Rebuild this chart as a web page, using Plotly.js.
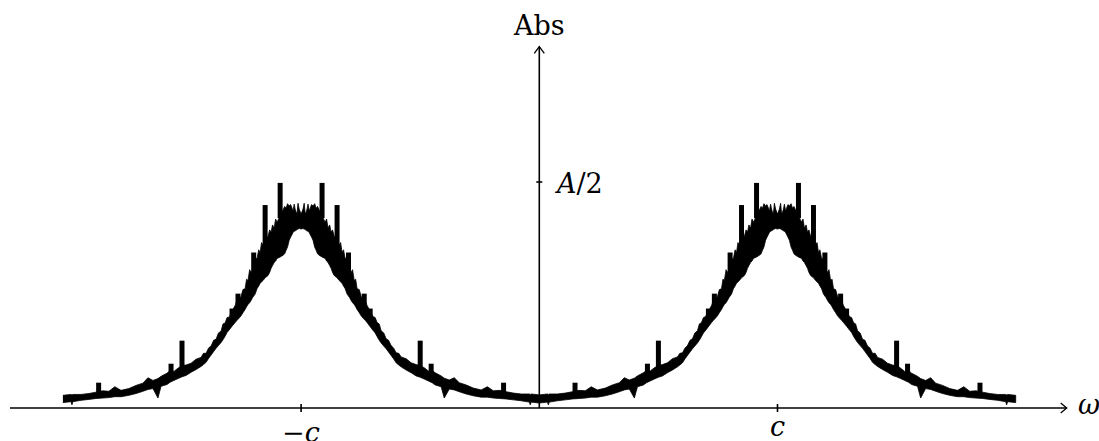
<!DOCTYPE html>
<html><head><meta charset="utf-8">
<script src="https://cdn.plot.ly/plotly-3.0.1.min.js"></script>
<style>html,body{margin:0;padding:0;background:#fff}#chart{width:1099px;height:441px}</style>
</head><body><div id="chart"></div>
<script>
// ===== data (omega in units of c, |F| in units of A) =====
// flank left of the -c peak (omega from -2c to -c)
const omegaOuterLeft = [-2.000,-1.966,-1.962,-1.958,-1.924,-1.891,-1.861,-1.833,-1.807,-1.782,-1.756,-1.723,-1.693,-1.664,-1.643,-1.622,-1.601,-1.588,-1.563,-1.550,-1.534,-1.517,-1.500,-1.483,-1.462,-1.441,-1.420,-1.410,-1.399,-1.388,-1.378,-1.367,-1.357,-1.347,-1.336,-1.328,-1.319,-1.311,-1.303,-1.290,-1.277,-1.269,-1.260,-1.252,-1.244,-1.235,-1.229,-1.223,-1.216,-1.210,-1.204,-1.193,-1.185,-1.178,-1.172,-1.166,-1.160,-1.151,-1.139,-1.132,-1.126,-1.120,-1.113,-1.107,-1.101,-1.088,-1.076,-1.069,-1.063,-1.057,-1.050,-1.044,-1.038,-1.034,-1.029,-1.025,-1.021,-1.017,-1.013,-1.008,-1.000];
const upperOuterLeft = [.028,.030,.029,.030,.030,.032,.035,.038,.037,.047,.039,.043,.050,.055,.067,.061,.065,.070,.077,.083,.081,.088,.094,.095,.099,.108,.112,.121,.121,.133,.137,.150,.152,.166,.170,.186,.188,.200,.201,.214,.227,.238,.240,.247,.262,.264,.285,.282,.306,.300,.305,.330,.331,.350,.344,.366,.360,.372,.380,.394,.389,.405,.398,.418,.411,.425,.438,.446,.442,.452,.447,.450,.442,.436,.451,.440,.433,.431,.453,.440,.429];
const lowerOuterLeft = [.012,.014,.007,.014,.017,.019,.021,.022,.023,.025,.025,.028,.032,.037,.041,.043,.022,.048,.052,.057,.061,.065,.069,.072,.079,.085,.092,.096,.101,.110,.117,.125,.132,.138,.145,.151,.159,.167,.172,.181,.189,.194,.199,.204,.211,.218,.224,.229,.233,.238,.244,.252,.264,.270,.276,.279,.282,.288,.293,.300,.309,.315,.322,.325,.331,.334,.338,.341,.349,.356,.371,.378,.384,.388,.391,.392,.393,.395,.396,.397,.396];
// flank right of the -c peak (omega from -c to 0)
const omegaInnerLeft = [-0.992,-0.987,-0.983,-0.979,-0.975,-0.971,-0.966,-0.962,-0.956,-0.950,-0.943,-0.937,-0.931,-0.924,-0.912,-0.899,-0.893,-0.887,-0.880,-0.874,-0.868,-0.861,-0.849,-0.840,-0.834,-0.828,-0.822,-0.815,-0.807,-0.796,-0.790,-0.784,-0.777,-0.771,-0.765,-0.756,-0.748,-0.740,-0.731,-0.723,-0.710,-0.697,-0.689,-0.681,-0.672,-0.664,-0.653,-0.643,-0.633,-0.622,-0.612,-0.601,-0.590,-0.580,-0.559,-0.538,-0.517,-0.500,-0.483,-0.466,-0.450,-0.437,-0.412,-0.399,-0.378,-0.357,-0.336,-0.307,-0.277,-0.244,-0.218,-0.193,-0.167,-0.139,-0.109,-0.076,-0.042,-0.038,-0.034,0.000];
const upperInnerLeft = [.440,.453,.431,.433,.440,.451,.436,.442,.450,.447,.452,.442,.446,.438,.425,.411,.418,.398,.405,.389,.394,.380,.372,.360,.366,.344,.350,.331,.330,.305,.300,.306,.282,.285,.264,.262,.247,.240,.238,.227,.214,.202,.200,.189,.186,.171,.166,.153,.150,.138,.133,.122,.121,.113,.109,.100,.096,.094,.089,.082,.083,.078,.071,.066,.062,.067,.056,.051,.044,.040,.047,.038,.039,.036,.033,.031,.031,.030,.031,.029];
const lowerInnerLeft = [.397,.396,.395,.393,.392,.391,.388,.384,.378,.371,.356,.349,.341,.338,.334,.331,.325,.322,.315,.309,.300,.293,.288,.282,.279,.276,.270,.264,.252,.244,.238,.233,.229,.224,.218,.211,.204,.199,.194,.189,.180,.171,.166,.158,.150,.144,.137,.131,.124,.116,.109,.100,.095,.091,.084,.078,.071,.068,.064,.060,.056,.051,.047,.022,.042,.040,.036,.031,.027,.024,.024,.022,.021,.020,.018,.016,.013,.007,.013,.011];
// flank left of the +c peak (omega from 0 to c)
const omegaInnerRight = [0.034,0.038,0.042,0.076,0.109,0.139,0.167,0.193,0.218,0.244,0.277,0.307,0.336,0.357,0.378,0.399,0.412,0.437,0.450,0.466,0.483,0.500,0.517,0.538,0.559,0.580,0.590,0.601,0.612,0.622,0.633,0.643,0.653,0.664,0.672,0.681,0.689,0.697,0.710,0.723,0.731,0.740,0.748,0.756,0.765,0.771,0.777,0.784,0.790,0.796,0.807,0.815,0.822,0.828,0.834,0.840,0.849,0.861,0.868,0.874,0.880,0.887,0.893,0.899,0.912,0.924,0.931,0.937,0.943,0.950,0.956,0.962,0.966,0.971,0.975,0.979,0.983,0.987,0.992,1.000];
const upperInnerRight = [.031,.030,.031,.031,.033,.036,.039,.038,.047,.040,.044,.051,.056,.067,.062,.066,.071,.078,.083,.082,.089,.094,.096,.100,.109,.113,.121,.122,.133,.138,.150,.153,.166,.171,.186,.189,.200,.202,.214,.227,.238,.240,.247,.262,.264,.285,.282,.306,.300,.305,.330,.331,.350,.344,.366,.360,.372,.380,.394,.389,.405,.398,.418,.411,.425,.438,.446,.442,.452,.447,.450,.442,.436,.451,.440,.433,.431,.453,.440,.429];
const lowerInnerRight = [.013,.007,.013,.016,.018,.020,.021,.022,.024,.024,.027,.031,.036,.040,.042,.022,.047,.051,.056,.060,.064,.068,.071,.078,.084,.091,.095,.100,.109,.116,.124,.131,.137,.144,.150,.158,.166,.171,.180,.189,.194,.199,.204,.211,.218,.224,.229,.233,.238,.244,.252,.264,.270,.276,.279,.282,.288,.293,.300,.309,.315,.322,.325,.331,.334,.338,.341,.349,.356,.371,.378,.384,.388,.391,.392,.393,.395,.396,.397,.396];
// flank right of the +c peak (omega from c to 2c)
const omegaOuterRight = [1.008,1.013,1.017,1.021,1.025,1.029,1.034,1.038,1.044,1.050,1.057,1.063,1.069,1.076,1.088,1.101,1.107,1.113,1.120,1.126,1.132,1.139,1.151,1.160,1.166,1.172,1.178,1.185,1.193,1.204,1.210,1.216,1.223,1.229,1.235,1.244,1.252,1.260,1.269,1.277,1.290,1.303,1.311,1.319,1.328,1.336,1.347,1.357,1.367,1.378,1.388,1.399,1.410,1.420,1.441,1.462,1.483,1.500,1.517,1.534,1.550,1.563,1.588,1.601,1.622,1.643,1.664,1.693,1.723,1.756,1.782,1.807,1.833,1.861,1.891,1.924,1.958,1.962,1.966,2.000];
const upperOuterRight = [.440,.453,.431,.433,.440,.451,.436,.442,.450,.447,.452,.442,.446,.438,.425,.411,.418,.398,.405,.389,.394,.380,.372,.360,.366,.344,.350,.331,.330,.305,.300,.306,.282,.285,.264,.262,.247,.240,.238,.227,.214,.202,.200,.189,.186,.171,.166,.152,.150,.137,.133,.121,.121,.112,.108,.099,.095,.094,.088,.081,.083,.077,.070,.065,.061,.067,.055,.050,.043,.039,.047,.037,.038,.035,.032,.030,.030,.029,.030,.028];
const lowerOuterRight = [.397,.396,.395,.393,.392,.391,.388,.384,.378,.371,.356,.349,.341,.338,.334,.331,.325,.322,.315,.309,.300,.293,.288,.282,.279,.276,.270,.264,.252,.244,.238,.233,.229,.224,.218,.211,.204,.199,.194,.189,.181,.172,.167,.159,.151,.145,.138,.132,.125,.117,.110,.101,.096,.092,.085,.079,.072,.069,.065,.061,.057,.052,.048,.022,.043,.041,.037,.032,.028,.025,.025,.023,.022,.021,.019,.017,.014,.007,.014,.012];
// isolated narrow spikes
const spikeOmega = [-1.850,-1.546,-1.500,-1.290,-1.265,-1.199,-1.151,-1.088,-0.912,-0.849,-0.801,-0.735,-0.710,-0.500,-0.454,-0.150,
                    0.150,0.454,0.500,0.710,0.735,0.801,0.849,0.912,1.088,1.151,1.199,1.265,1.290,1.500,1.546,1.850];
const spikeTop = [.056,.098,.149,.220,.253,.344,.449,.498,.498,.449,.344,.253,.220,.149,.098,.056,
                  .056,.098,.149,.220,.253,.344,.449,.498,.498,.449,.344,.253,.220,.149,.098,.056];
const spikeBase = [.034,.080,.090,.205,.230,.300,.360,.420,.420,.360,.300,.230,.205,.090,.080,.034,
                   .034,.080,.090,.205,.230,.300,.360,.420,.420,.360,.300,.230,.205,.090,.080,.034];
// tick labels and axis titles
const xTickValues = [-1, 1];
const xTickText = ['\u2212<i>c</i>', '<i>c</i>'];
const yTickValues = [0.5];
const yTickText = ['<i>A</i>/2'];
const xTitle = '<i>\u03c9</i>';
const yTitle = 'Abs';

// ===== geometry (pixels) =====
const W = 1099, H = 441;
const mL = 10, mR = 31, mT = 44, mB = 21;
const x0px = 539.3, pxPerX = 238.2;
const y0px = 408, pxPerY = 452;
const xRange = [(mL - x0px) / pxPerX, (W - mR - x0px) / pxPerX];
const yRange = [(y0px - (H - mB)) / pxPerY, (y0px - mT) / pxPerY];
const dx = p => p / pxPerX, dy = p => p / pxPerY;
const paperX = px => (px - mL) / (W - mL - mR);
const paperY = py => ((H - mB) - py) / (H - mT - mB);

const omega = [].concat(omegaOuterLeft, omegaInnerLeft, omegaInnerRight, omegaOuterRight);
const absUpper = [].concat(upperOuterLeft, upperInnerLeft, upperInnerRight, upperOuterRight);
const absLower = [].concat(lowerOuterLeft, lowerInnerLeft, lowerInnerRight, lowerOuterRight);
const bandX = omega.concat(omega.slice().reverse());
const bandY = absUpper.concat(absLower.slice().reverse());

const sx = [], sy = [];
spikeOmega.forEach((w, i) => { sx.push(w, w, null); sy.push(spikeBase[i], spikeTop[i], null); });

const traces = [
  {x: bandX, y: bandY, mode: 'lines', fill: 'toself', fillcolor: '#000', line: {color: '#000', width: 0.8, simplify: false}, hoverinfo: 'skip'},
  {x: sx, y: sy, mode: 'lines', line: {color: '#000', width: 5, simplify: false}, connectgaps: false, hoverinfo: 'skip'}
];

const xTip = (1066.7 - x0px) / pxPerX;
const yTip = (y0px - 46.7) / pxPerY;
const axisLine = {color: '#000', width: 1.6};
const shapes = [
  {type: 'line', xref: 'x', yref: 'y', x0: xRange[0], x1: xTip, y0: 0, y1: 0, line: axisLine},
  {type: 'path', xref: 'x', yref: 'y', path: `M${xTip - dx(6)},${dy(5)} L${xTip},0 L${xTip - dx(6)},${-dy(5)}`, line: {color: '#000', width: 1.3}},
  {type: 'line', xref: 'x', yref: 'y', x0: 0, x1: 0, y0: 0, y1: yTip, line: axisLine},
  {type: 'path', xref: 'x', yref: 'y', path: `M${-dx(5)},${yTip - dy(6.6)} L0,${yTip} L${dx(5)},${yTip - dy(6.6)}`, line: {color: '#000', width: 1.3}}
];
xTickValues.forEach(v => shapes.push({type: 'line', xref: 'x', yref: 'y', x0: v, x1: v, y0: -dy(4), y1: dy(4), line: axisLine}));
yTickValues.forEach(v => shapes.push({type: 'line', xref: 'x', yref: 'y', x0: -dx(3), x1: dx(3), y0: v, y1: v, line: axisLine}));

const font = {family: 'DejaVu Serif', size: 27, color: '#000'};
const xLabelY = [432, 426];
const annotations = [
  {xref: 'paper', yref: 'paper', x: paperX(x0px), y: paperY(25), text: yTitle, showarrow: false, xanchor: 'center', yanchor: 'middle', font},
  {xref: 'paper', yref: 'paper', x: paperX(1089), y: paperY(404), text: xTitle, showarrow: false, xanchor: 'center', yanchor: 'middle', font}
];
xTickValues.forEach((v, i) => annotations.push({xref: 'paper', yref: 'paper', x: paperX(x0px + v * pxPerX), y: paperY(xLabelY[i]), text: xTickText[i], showarrow: false, xanchor: 'center', yanchor: 'middle', font}));
yTickValues.forEach((v, i) => annotations.push({xref: 'paper', yref: 'paper', x: paperX(552), y: paperY(y0px - v * pxPerY + 1), text: yTickText[i], showarrow: false, xanchor: 'left', yanchor: 'middle', font}));

const layout = {
  width: W, height: H, autosize: false,
  margin: {l: mL, r: mR, t: mT, b: mB, pad: 0},
  paper_bgcolor: '#fff', plot_bgcolor: '#fff',
  showlegend: false,
  xaxis: {range: xRange, visible: false, fixedrange: true},
  yaxis: {range: yRange, visible: false, fixedrange: true},
  shapes, annotations
};
Plotly.newPlot('chart', traces, layout, {staticPlot: true, displayModeBar: false});
</script>
</body></html>
